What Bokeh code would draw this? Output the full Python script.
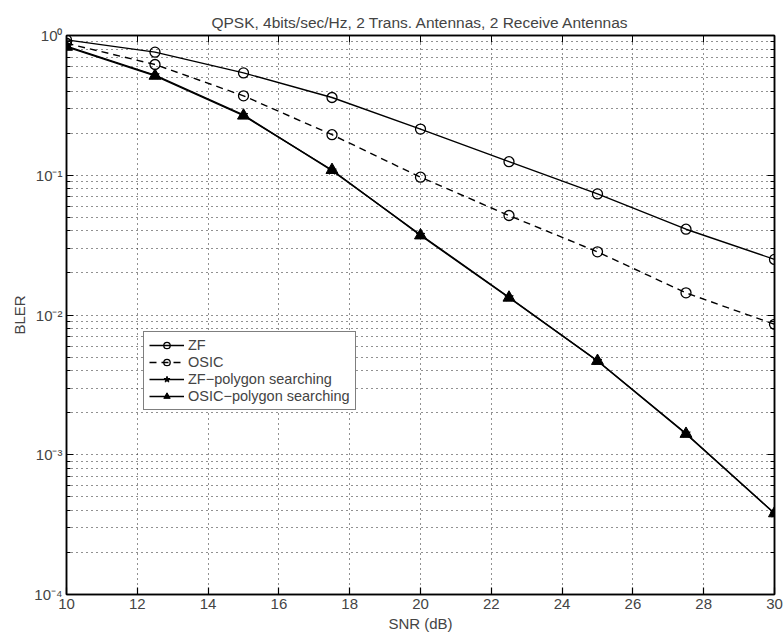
from bokeh.plotting import figure
from bokeh.models import (FixedTicker, CustomJSTickFormatter, LogAxis, LinearAxis,
                          Range1d, Legend, LegendItem)
from bokeh.embed import file_html
from bokeh.resources import INLINE

snr = [10, 12.5, 15, 17.5, 20, 22.5, 25, 27.5, 30]
zf = [0.93, 0.76, 0.54, 0.36, 0.214, 0.125, 0.0735, 0.0411, 0.025]
osic = [0.88, 0.62, 0.37, 0.195, 0.0968, 0.0515, 0.0283, 0.0144, 0.00858]
zf_poly = [0.84, 0.52, 0.27, 0.108, 0.0375, 0.0134, 0.0047, 0.00142, 0.00038]
osic_poly = [0.83, 0.515, 0.267, 0.109, 0.0371, 0.0133, 0.00469, 0.00141, 0.000381]

x_ticks = [10, 12, 14, 16, 18, 20, 22, 24, 26, 28, 30]
y_ticks = [1e-4, 1e-3, 1e-2, 1e-1, 1.0]
y_minor = [m * d for d in [1e-4, 1e-3, 1e-2, 1e-1] for m in range(2, 10)]

FONT = "Liberation Sans"

p = figure(width=784, height=639, y_axis_type="log",
           x_range=Range1d(10, 30), y_range=Range1d(1e-4, 1),
           output_backend="svg", toolbar_location=None,
           min_border_left=66, min_border_right=10, min_border_top=35,
           min_border_bottom=45,
           title="QPSK, 4bits/sec/Hz, 2 Trans. Antennas, 2 Receive Antennas")
p.title.align = "center"
p.title.text_font = FONT
p.title.text_font_size = "15.5px"
p.title.text_font_style = "normal"
p.title.offset = 0

p.outline_line_color = "black"
p.outline_line_width = 1.5
p.background_fill_color = "white"
p.border_fill_color = "white"

xt = FixedTicker(ticks=x_ticks)
yt = FixedTicker(ticks=y_ticks, minor_ticks=y_minor)
fmt = CustomJSTickFormatter(code="""
const sup = {"-":"\u207b","0":"\u2070","1":"\u00b9","2":"\u00b2","3":"\u00b3","4":"\u2074","5":"\u2075"};
const e = Math.round(Math.log10(tick));
return "10" + String(e).split("").map(c => sup[c]).join("");
""")
blank = CustomJSTickFormatter(code='return "";')

xa = p.xaxis[0]
xa.ticker = xt
xa.axis_label = "SNR (dB)"
ya = p.yaxis[0]
ya.ticker = yt
ya.formatter = fmt
ya.axis_label = "BLER"
for ax in (xa, ya):
    ax.axis_label_text_font = FONT
    ax.axis_label_text_font_size = "15px"
    ax.axis_label_text_font_style = "normal"
    ax.major_label_text_font = FONT
    ax.major_label_text_font_size = "15px"
    ax.major_tick_in = 7
    ax.major_tick_out = 0
    ax.minor_tick_in = 4
    ax.minor_tick_out = 0
    ax.axis_line_color = "black"
    ax.axis_line_width = 1.5
    ax.major_tick_line_width = 1.2
    ax.major_label_standoff = 4
    ax.axis_label_standoff = 3
xa.minor_tick_line_color = None

top = LinearAxis(ticker=xt, formatter=blank, major_label_text_font_size="6px",
                 major_tick_in=7, major_tick_out=0, minor_tick_line_color=None,
                 axis_line_width=1.5, major_label_standoff=0)
right = LogAxis(ticker=yt, formatter=blank, major_label_text_font_size="6px",
                major_tick_in=7, major_tick_out=0, minor_tick_in=4, minor_tick_out=0,
                axis_line_width=1.5, major_label_standoff=0)
p.add_layout(top, "above")
p.add_layout(right, "right")

for g in (p.xgrid[0], p.ygrid[0]):
    g.grid_line_color = "#222222"
    g.grid_line_dash = "1 4"
    g.grid_line_width = 1
p.xgrid[0].ticker = xt
p.ygrid[0].ticker = yt
p.ygrid[0].minor_grid_line_color = "#222222"
p.ygrid[0].minor_grid_line_dash = "1 4"
p.ygrid[0].minor_grid_line_width = 1

lw = 1.4
r1 = p.line(snr, zf, line_color="black", line_width=lw)
s1 = p.scatter(snr, zf, marker="circle", size=10, fill_color=None,
               line_color="black", line_width=1.3)
r2 = p.line(snr, osic, line_color="black", line_width=lw, line_dash="7 5")
s2 = p.scatter(snr, osic, marker="circle", size=10, fill_color=None,
               line_color="black", line_width=1.3)
r3 = p.line(snr, zf_poly, line_color="black", line_width=lw)
s3 = p.scatter(snr, zf_poly, marker="star", size=9, fill_color="black",
               line_color="black")
r4 = p.line(snr, osic_poly, line_color="black", line_width=lw)
s4 = p.scatter(snr, osic_poly, marker="triangle", size=12, fill_color="black",
               line_color="black")

legend = Legend(items=[
    LegendItem(label="ZF", renderers=[r1, s1]),
    LegendItem(label="OSIC", renderers=[r2, s2]),
    LegendItem(label="ZF\u2212polygon searching", renderers=[r3, s3]),
    LegendItem(label="OSIC\u2212polygon searching", renderers=[r4, s4]),
], location=(77, 184))
legend.label_text_font = FONT
legend.label_text_font_size = "14.5px"
legend.label_height = 16
legend.glyph_height = 16
legend.glyph_width = 35
legend.spacing = 1
legend.padding = 5
legend.margin = 0
legend.border_line_color = "black"
legend.border_line_width = 1.2
legend.background_fill_alpha = 1
legend.label_standoff = 4
p.add_layout(legend, "center")

open("out.html", "w").write(file_html(p, INLINE))
